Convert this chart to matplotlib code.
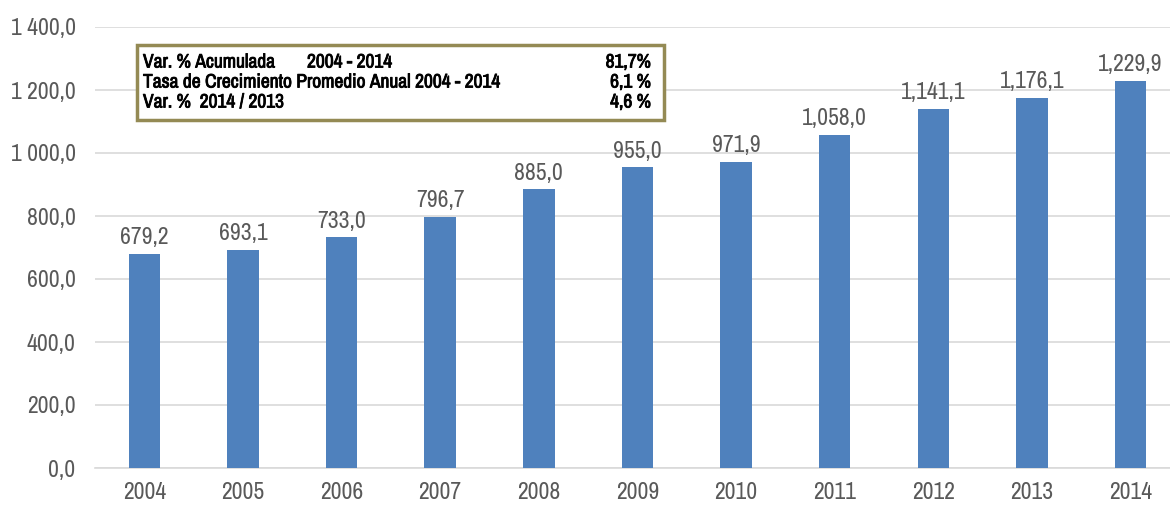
import matplotlib.pyplot as plt
import matplotlib.patheffects as pe
from matplotlib.patches import Rectangle

years = ['2004', '2005', '2006', '2007', '2008', '2009', '2010', '2011', '2012', '2013', '2014']
values = [679.2, 693.1, 733.0, 796.7, 885.0, 955.0, 971.9, 1058.0, 1141.1, 1176.1, 1229.9]
value_labels = ['679,2', '693,1', '733,0', '796,7', '885,0', '955,0', '971,9',
                '1,058,0', '1,141,1', '1,176,1', '1,229,9']
yticks = [0, 200, 400, 600, 800, 1000, 1200, 1400]
ytick_labels = ['0,0', '200,0', '400,0', '600,0', '800,0', '1 000,0', '1 200,0', '1 400,0']

box_rows = [
    ('Var. % Acumulada', '2004 - 2014', '81,7%'),
    ('Tasa de Crecimiento Promedio Anual 2004 - 2014', '', '6,1 %'),
    ('Var. %  2014 / 2013', '', '4,6 %'),
]

plt.rcParams['font.family'] = ['Archivo Narrow', 'DejaVu Sans']

fig = plt.figure(figsize=(11.7, 5.05), dpi=100)
ax = fig.add_axes([95 / 1170, 37 / 505, 1 - 95 / 1170, 441 / 505])

x = range(len(years))
ax.bar(x, values, width=0.32, color='#4F81BD', zorder=3)
for i, (v, lab) in enumerate(zip(values, value_labels)):
    ax.annotate(lab, (i, v), xytext=(0, 4), textcoords='offset points',
                ha='center', va='bottom', fontsize=17, color='#595959')

ax.set_ylim(0, 1400)
ax.set_xlim(-0.5, 10.4)
ax.set_yticks(yticks)
ax.set_yticklabels(ytick_labels)
ax.set_xticks(list(x))
ax.set_xticklabels(years)
ax.tick_params(axis='both', length=0, labelsize=17, labelcolor='#595959')
ax.tick_params(axis='y', pad=14)
ax.tick_params(axis='x', pad=10)
ax.grid(axis='y', color='#D9D9D9', linewidth=1.2, zorder=0)
for s in ['top', 'right', 'left']:
    ax.spines[s].set_visible(False)
ax.spines['bottom'].set_color('#D9D9D9')
ax.spines['bottom'].set_linewidth(1.2)

# cuadro resumen (negrita simulada con trazo, la fuente no trae bold)
bold = [pe.withStroke(linewidth=0.6, foreground='black')]
fig.patches.append(Rectangle((137 / 1170, 1 - 120 / 505), 527 / 1170, 75 / 505,
                             transform=fig.transFigure, fill=True, facecolor='white',
                             edgecolor='#948A54', linewidth=2.5, zorder=5))
for k, (a, b, c) in enumerate(box_rows):
    yy = 1 - (62 + 20 * k) / 505
    fig.text(143 / 1170, yy, a, fontsize=14, va='center', zorder=6, path_effects=bold)
    if b:
        fig.text(307 / 1170, yy, b, fontsize=14, va='center', zorder=6, path_effects=bold)
    fig.text(651 / 1170, yy, c, fontsize=14, va='center', ha='right', zorder=6, path_effects=bold)

fig.savefig('out.png', dpi=100)
